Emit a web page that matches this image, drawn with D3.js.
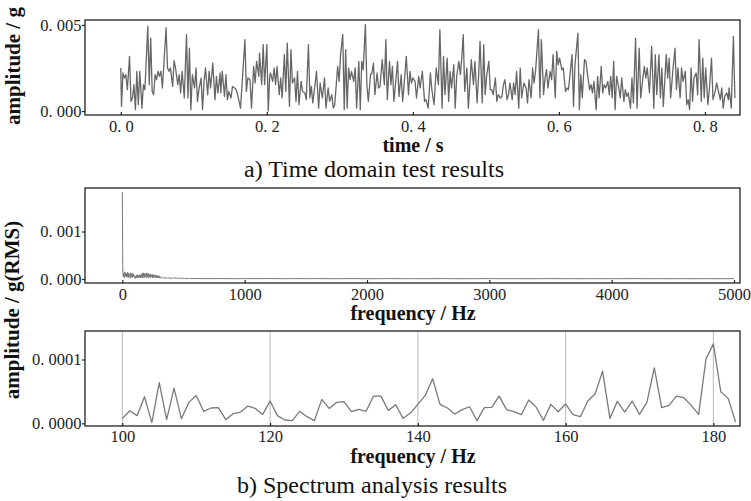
<!DOCTYPE html>
<html><head><meta charset="utf-8">
<script src="https://cdn.jsdelivr.net/npm/d3@7"></script>
<style>body{margin:0;background:#fff}svg{display:block}</style>
</head><body><svg id="c" width="751" height="501"></svg>
<script>
// ---- a) time domain: sample times (ms) and amplitude (milli-g)
const timeMs=[0,1,3,5,7,9,12,14,16,18,20,22,24,26,29,31,33,37,39,41,43,45,47,49,51,53,55,57,62,64,66,68,71,73,75,78,80,82,84,87,90,92,94,96,98,101,103,105,107,110,112,114,116,119,121,123,126,129,131,133,136,137,139,142,144,146,148,151,153,156,158,161,164,170,172,174,177,179,182,184,186,189,190,193,195,197,200,202,204,205,208,210,212,214,217,219,221,224,226,228,231,233,235,238,240,242,244,247,249,252,254,257,259,261,263,266,268,271,273,
276,279,281,284,286,289,291,293,297,299,301,304,306,308,310,312,314,316,319,321,323,326,328,330,332,335,337,339,342,344,346,348,351,353,355,358,361,363,365,368,370,372,374,377,379,381,384,386,388,391,394,396,398,400,403,405,408,410,413,416,418,421,424,426,429,432,435,437,440,442,444,447,449,451,453,456,458,460,463,465,467,469,471,474,476,478,480,483,485,488,490,492,495,497,499,501,504,506,508,510,513,515,517,520,522,524,526,529,531,533,536,538,540,542,545,547,549,552,
555,557,559,562,564,566,568,572,574,576,579,581,583,585,588,590,592,595,597,599,601,604,606,609,611,613,615,618,620,622,626,628,630,632,635,637,639,642,644,646,648,651,653,655,658,660,662,664,667,669,671,673,675,677,679,682,684,686,689,691,693,695,698,700,702,705,707,710,712,715,717,719,721,724,727,730,732,734,737,739,741,743,747,749,751,753,756,759,761,763,766,768,770,773,775,777,779,781,783,785,788,790,792,795,797,799,801,804,806,809,811,814,816,818,821,823,825,827,830,832,833,836,839,841];
const ampMg=[2.50,0.27,2.21,1.92,2.11,1.24,3.18,0.56,0.76,1.53,0.08,2.31,0.37,2.31,0.17,1.53,1.24,4.92,1.53,4.24,1.14,0.95,2.11,1.82,2.31,2.02,2.31,1.34,4.83,2.50,2.31,2.50,1.43,2.93,2.50,1.53,2.11,1.05,2.31,0.76,4.44,0.76,3.66,0.08,2.11,1.34,2.50,0.56,1.24,1.92,0.08,1.72,2.50,0.95,2.31,1.34,2.79,0.66,2.02,1.05,2.21,1.05,2.31,0.85,2.11,0.66,1.14,0.76,1.43,1.34,1.24,0.76,0.17,4.15,1.14,1.92,1.82,0.17,2.60,1.63,2.89,2.02,3.37,1.53,3.86,1.53,3.86,0.00,2.02,2.21,1.72,2.50,1.53,2.60,0.95,1.92,0.76,3.28,1.14,3.95,0.27,3.57,1.63,1.92,0.56,2.31,0.37,1.72,1.14,1.05,0.66,3.86,0.76,1.43,0.47,1.53,2.31,0.17,1.63,
0.76,1.92,0.17,1.34,0.56,0.95,0.17,0.37,2.60,1.72,3.28,4.44,0.08,3.57,0.17,2.50,1.82,2.31,1.72,2.50,0.17,2.89,0.08,2.89,2.40,5.02,1.53,0.56,2.11,2.21,2.79,0.95,2.21,1.34,1.43,2.98,1.53,4.15,0.66,2.89,1.53,2.60,0.56,1.92,2.89,0.85,2.11,0.56,1.53,3.18,0.95,2.31,1.63,1.92,1.72,0.76,2.02,1.34,2.31,0.56,0.66,0.17,2.21,1.24,0.37,2.50,1.53,4.73,0.17,3.18,0.95,3.08,0.56,2.31,1.34,2.69,0.17,2.02,2.89,2.11,3.08,4.44,1.14,2.50,0.17,1.53,2.98,1.53,2.89,0.47,2.02,4.05,0.47,3.86,0.95,2.02,2.89,1.24,1.24,0.95,1.92,0.56,0.95,0.76,0.85,1.53,1.82,0.66,0.95,1.63,0.66,1.63,0.95,2.31,0.17,2.50,0.76,1.63,
1.34,0.47,1.82,0.76,2.50,1.63,2.31,4.73,0.76,4.15,0.95,1.92,2.40,1.34,2.31,1.82,3.28,0.76,3.47,2.69,3.08,2.40,2.50,1.14,1.34,1.24,2.02,3.28,0.27,2.69,4.53,0.08,2.11,0.76,2.98,2.89,2.21,1.24,1.53,1.05,1.72,0.08,2.02,0.76,2.60,1.05,1.53,1.34,1.72,0.95,2.02,0.76,2.89,0.08,2.02,1.34,0.76,1.92,0.56,1.24,0.85,1.05,0.17,1.92,0.47,4.24,0.17,3.66,0.76,1.92,2.60,1.92,2.50,1.05,3.76,0.17,3.28,0.95,3.28,0.76,2.50,0.27,3.28,1.92,3.08,0.76,2.31,3.66,1.24,2.50,0.76,2.50,1.72,2.31,0.37,0.66,0.08,2.50,0.56,1.92,2.21,0.95,4.15,0.56,3.08,0.76,2.50,0.37,1.24,3.08,0.66,1.14,1.63,1.24,0.66,1.34,0.17,0.85,1.05,0.66,1.34,0.17,4.34,0.76];

// ---- b) spectrum, amplitudes in units of 1e-5 g(RMS)
const specBandStart=0, specBandStep=4;
const specBandAmp=[183,14,5,12,3,15,6,13,4,11,5,14,3,12,6,10,2,13,5,11,3,12,4,10,6,7,1,6,2,8,3,9,2,7,4,9,2,8,3,10,3,12,2,13,4,12,3,10,5,13,3,11,4,12,2,9,5,11,3,8,4,10,2,9,3,8,4,9,2,7,3,8,2,6,3,7,2,5,2];
const specTailStart=320, specTailStep=10;
const specTailAmp=[4,1.5,3.5,1,3,1.5,3,1,2.5,1,3,1.5,2.5,1,2,1,2,0.8,1.8,0.8,1.5,0.8,1.2,0.8];
const specFarStart=600, specFarStep=100;
const specFarAmp=[1,0.7,0.9,0.6,0.8,0.7,0.9,0.6,0.8,0.7,0.8,0.6,0.7,0.8,0.6,0.7,0.8,0.6,0.7,0.6,0.8,0.7,0.6,0.7,0.8,0.6,0.7,0.6,0.7,0.8,0.6,0.7,0.6,0.7,0.6,0.7,0.8,0.6,0.7,0.6,0.7,0.6,0.7,0.6,0.7];
// zoomed spectrum 100..183 Hz, 1 Hz step
const zoomStart=100, zoomStep=1;
const zoomAmp=[0.73,1.98,1.2,4.17,0.1,6.36,0.58,5.52,0.73,3.28,4.37,1.88,2.4,2.45,0.57,1.51,1.77,2.71,2.34,1.4,3.49,1.2,0.52,0.42,1.88,1.04,0.42,3.75,2.34,3.28,3.39,1.82,2.19,1.88,4.27,4.27,2.03,2.92,0.78,1.61,2.97,4.37,6.98,2.97,2.4,1.46,2.14,2.6,0.42,2.45,2.5,4.27,2.14,1.82,1.35,3.65,2.55,0.47,2.97,1.82,3.02,1.35,1.04,3.49,4.63,8.18,0.78,3.44,1.77,3.49,1.4,3.28,8.7,2.45,2.81,4.27,4.01,2.81,1.4,10.1,12.45,4.95,3.91,0.21];

// ---- ticks and axis limits
const timeTicks=[0,0.2,0.4,0.6,0.8];
const freqTicks=[0,1000,2000,3000,4000,5000];
const zoomTicks=[100,120,140,160,180];
const amp1Ticks=[0,0.005], amp2Ticks=[0,0.001], amp3Ticks=[0,0.0001];
const timeLim=[-0.049,0.848], amp1Lim=[-0.00023,0.00529];
const freqLim=[-305,5049], amp2Lim=[-0.0000845,0.001917];
const zoomLim=[94.95,183.6], amp3Lim=[-0.0000042,0.0001447];

const E5=1e-5;
const svg=d3.select("#c");
const SERIF='"Liberation Serif","Times New Roman",serif';
svg.append("rect").attr("width",751).attr("height",501).attr("fill","#fff");

const panels=[
 {top:20,bottom:115,xLim:timeLim,yLim:amp1Lim,xt:timeTicks,yt:amp1Ticks,xf:d=>d3.format(".1f")(d).replace(".",". "),yf:d=>d3.format(".3f")(d).replace(".",". "),pad:5},
 {top:188,bottom:283,xLim:freqLim,yLim:amp2Lim,xt:freqTicks,yt:amp2Ticks,xf:d3.format("d"),yf:d=>d3.format(".3f")(d).replace(".",". "),pad:5},
 {top:331,bottom:426,xLim:zoomLim,yLim:amp3Lim,xt:zoomTicks,yt:amp3Ticks,xf:d3.format("d"),yf:d=>d3.format(".4f")(d).replace(".",". "),pad:4}
];
const L=85,R=740;
panels.forEach((p,i)=>{
  p.x=d3.scaleLinear().domain(p.xLim).range([L,R]);
  p.y=d3.scaleLinear().domain(p.yLim).range([p.bottom,p.top]);
  svg.append("clipPath").attr("id","clip"+i).append("rect")
    .attr("x",L).attr("y",p.top).attr("width",R-L).attr("height",p.bottom-p.top);
});

// data series
const s1=timeMs.map((t,i)=>[t/1000,ampMg[i]/1000]);
const s2=[].concat(
  specBandAmp.map((a,i)=>[specBandStart+i*specBandStep,a*E5]),
  specTailAmp.map((a,i)=>[specTailStart+i*specTailStep,a*E5]),
  specFarAmp.map((a,i)=>[specFarStart+i*specFarStep,a*E5]));
const s3=zoomAmp.map((a,i)=>[zoomStart+i*zoomStep,a*E5]);

// grid in zoom panel
const p3=panels[2];
svg.append("g").selectAll("line").data(zoomTicks).join("line")
  .attr("x1",d=>p3.x(d)).attr("x2",d=>p3.x(d)).attr("y1",p3.top).attr("y2",p3.bottom)
  .attr("stroke","#c4c4c4").attr("stroke-width",1.2);

const series=[s1,s2,s3];
const widths=[1.3,1,1.3];
const cols=["#666","#7a7a7a","#7a7a7a"];
panels.forEach((p,i)=>{
  svg.append("path").datum(series[i]).attr("clip-path","url(#clip"+i+")")
    .attr("fill","none").attr("stroke",cols[i]).attr("stroke-width",widths[i]).attr("stroke-linejoin","round")
    .attr("d",d3.line().x(d=>p.x(d[0])).y(d=>p.y(d[1])));
  // axes
  const gx=svg.append("g").attr("transform",`translate(0,${p.bottom})`)
    .call(d3.axisBottom(p.x).tickValues(p.xt).tickFormat(p.xf).tickSizeInner(-3).tickSizeOuter(0).tickPadding(p.pad));
  const gy=svg.append("g").attr("transform",`translate(${L},0)`)
    .call(d3.axisLeft(p.y).tickValues(p.yt).tickFormat(p.yf).tickSizeInner(3).tickSizeOuter(0).tickPadding(0.5));
  [gx,gy].forEach(g=>{
    g.select(".domain").remove();
    g.attr("font-family",null).attr("font-size",null);
    g.selectAll("line").attr("stroke","#222").attr("stroke-width",1.2);
    g.selectAll("text").style("font-family",SERIF).style("font-size","16.5px").attr("fill","#222");
  });
  svg.append("rect").attr("x",L).attr("y",p.top).attr("width",R-L).attr("height",p.bottom-p.top)
    .attr("fill","none").attr("stroke","#222").attr("stroke-width",1.3);
});

function txt(x,y,s,size,bold,rot){
  const t=svg.append("text").style("font-family",SERIF).style("font-size",size+"px")
    .attr("font-weight",bold?"bold":"normal").attr("fill","#111").attr("text-anchor","middle").text(s);
  if(rot) t.attr("transform",`translate(${x},${y}) rotate(-90)`); else t.attr("x",x).attr("y",y);
}
txt(413,152,"time / s",20,true);
txt(374,177,"a) Time domain test results",24,false);
txt(413,320,"frequency / Hz",20,true);
txt(413,463,"frequency / Hz",20,true);
txt(372,493,"b) Spectrum analysis results",24,false);
txt(20,66,"amplitude / g",21,true,true);
txt(19,310,"amplitude / g(RMS)",21,true,true);
</script></body></html>
